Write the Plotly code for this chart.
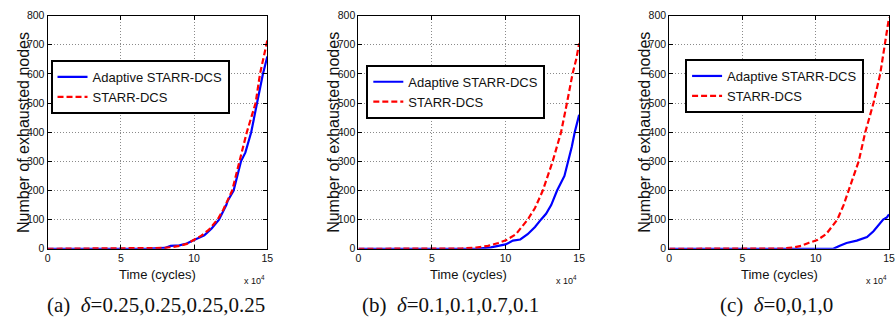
import plotly.graph_objects as go

# ---- data (time in units of 10^4 cycles) ----
a_blue_t = [0, 6, 7, 8, 8.4, 9, 9.5, 10, 10.3, 10.7, 11.2, 11.7, 12.2, 12.3, 12.7, 13.2, 13.5, 13.9, 14.3, 14.7, 15]
a_blue_v = [0, 0, 1, 3, 10, 12, 18, 30, 38, 46, 70, 100, 150, 165, 200, 300, 330, 400, 500, 600, 660]
a_red_t = [0, 7, 8, 8.5, 9, 9.5, 10, 10.5, 11, 11.6, 12, 12.6, 13.1, 13.6, 14.2, 14.5, 15]
a_red_v = [0, 1, 3, 6, 10, 17, 30, 45, 65, 100, 135, 200, 300, 400, 500, 600, 715]

b_blue_t = [0, 8, 9, 10, 10.5, 11, 11.5, 12, 12.4, 12.75, 13.1, 13.5, 14, 14.26, 14.5, 14.7, 15]
b_blue_v = [0, 0, 5, 15, 28, 32, 50, 75, 100, 120, 150, 200, 250, 300, 350, 400, 460]
b_red_t = [0, 7, 8, 8.8, 9.5, 10.06, 10.7, 11.5, 12.0, 12.53, 13.2, 13.77, 14.17, 14.55, 14.8, 15]
b_red_v = [0, 1, 4, 10, 20, 30, 50, 100, 140, 200, 300, 400, 500, 600, 650, 705]

c_blue_t = [0, 11.2, 11.6, 12.1, 12.8, 13.5, 13.94, 14.3, 14.6, 14.85, 15]
c_blue_v = [0, 0, 10, 20, 28, 40, 60, 80, 100, 108, 118]
c_red_t = [0, 7.8, 8.5, 9, 9.5, 10.1, 10.7, 11.47, 11.9, 12.26, 12.6, 12.93, 13.38, 13.94, 14.4, 14.73, 15]
c_red_v = [0, 1, 5, 10, 20, 30, 50, 100, 150, 200, 250, 300, 400, 500, 600, 700, 793]

series_names = ["Adaptive STARR-DCS", "STARR-DCS"]
captions = ["(a)  <i>\u03b4</i>=0.25,0.25,0.25,0.25", "(b)  <i>\u03b4</i>=0.1,0.1,0.7,0.1",
            "(c)  <i>\u03b4</i>=0,0,1,0"]
x_ticks = [0, 5, 10, 15]
y_ticks = [0, 100, 200, 300, 400, 500, 600, 700, 800]

panels = [
    (a_blue_t, a_blue_v, a_red_t, a_red_v),
    (b_blue_t, b_blue_v, b_red_t, b_red_v),
    (c_blue_t, c_blue_v, c_red_t, c_red_v),
]

W, H = 896, 329
x_dom_px = [(45, 267), (359, 582), (673, 895)]
y_dom_px = (10, 252)
legend_px = [(48, 56), (367, 61), (689, 55)]
ytitle_px = [20, 334, 648]
caption_px = [155, 452, 781]

SANS = "Liberation Sans, Arial, sans-serif"
SERIF = "Liberation Serif, Times New Roman, serif"

fig = go.Figure()
layout = dict(
    width=W, height=H, margin=dict(l=0, r=0, t=0, b=0),
    paper_bgcolor="white", plot_bgcolor="white", showlegend=True,
    font=dict(family=SANS, color="#111"),
)
annotations = []

def ann(text, xpx, ypx, size, family, angle=0, xanchor="center"):
    return dict(text=text, x=xpx / W, y=1 - ypx / H, xref="paper", yref="paper",
                showarrow=False, textangle=angle, xanchor=xanchor, yanchor="middle",
                font=dict(size=size, family=family, color="#111"))

for i, (bt, bv, rt, rv) in enumerate(panels):
    sfx = "" if i == 0 else str(i + 1)
    leg = "legend" if i == 0 else f"legend{i + 1}"
    fig.add_trace(go.Scatter(x=bt, y=bv, mode="lines", name=series_names[0],
                             line=dict(color="#0000ff", width=2.2),
                             xaxis="x" + sfx, yaxis="y" + sfx, legend=leg))
    fig.add_trace(go.Scatter(x=rt, y=rv, mode="lines", name=series_names[1],
                             line=dict(color="#ff0000", width=2.2, dash="6px,3px"),
                             xaxis="x" + sfx, yaxis="y" + sfx, legend=leg))
    x0, x1 = x_dom_px[i]
    axis_common = dict(
        showline=True, linecolor="black", linewidth=1, mirror="allticks",
        ticks="inside", ticklen=4, tickcolor="black",
        showgrid=True, gridcolor="#8a8a8a", griddash="1px,2px", gridwidth=1,
        zeroline=False, tickfont=dict(size=10.5, family=SANS, color="#111"),
    )
    layout["xaxis" + sfx] = dict(domain=[x0 / W, x1 / W], range=[0, 15], tickvals=x_ticks,
                                 anchor="y" + sfx, **axis_common)
    layout["yaxis" + sfx] = dict(domain=[1 - y_dom_px[1] / H, 1 - y_dom_px[0] / H],
                                 range=[0, 800], tickvals=y_ticks, anchor="x" + sfx,
                                 **axis_common)
    lx, ly = legend_px[i]
    layout[leg] = dict(
        x=lx / W, y=1 - ly / H, xanchor="left", yanchor="top",
        bgcolor="white", bordercolor="black", borderwidth=2,
        font=dict(size=13, family=SANS, color="#111"), itemwidth=30,
    )
    annotations.append(ann("Number of exhausted nodes", ytitle_px[i], 131, 16, SANS, angle=-90))
    annotations.append(ann("Time (cycles)", (x0 + x1) / 2, 279, 13, SANS))
    annotations.append(ann("x 10<sup>4</sup>", x1, 284, 9, SANS, xanchor="right"))
    annotations.append(ann(captions[i], caption_px[i], 310, 21, SERIF))

layout["annotations"] = annotations
fig.update_layout(**layout)
fig.write_html("out.html")
